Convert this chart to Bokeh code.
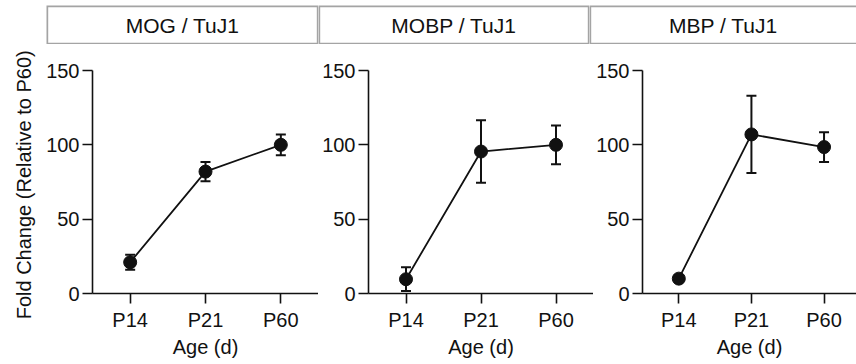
from bokeh.plotting import figure
from bokeh.layouts import column, row
from bokeh.models import (Range1d, FixedTicker, Whisker, TeeHead, ColumnDataSource)
from bokeh.core.properties import value
from bokeh.embed import file_html
from bokeh.resources import INLINE

# ---- data ----
categories = ["P14", "P21", "P60"]
panel_titles = ["MOG / TuJ1", "MOBP / TuJ1", "MBP / TuJ1"]
mog_mean = [21, 82, 100]
mog_err = [5, 6.5, 7]
mobp_mean = [9.6, 95.5, 100]
mobp_err = [8, 21, 13]
mbp_mean = [10, 107, 98.5]
mbp_err = [2, 26, 10]
y_ticks = [0, 50, 100, 150]
y_label = "Fold Change  (Relative to P60)"
x_label = "Age (d)"

FONT = "Liberation Sans"
FS = "20px"
BLACK = "#111111"
GREY = "#a4a4a4"

means = [mog_mean, mobp_mean, mbp_mean]
errs = [mog_err, mobp_err, mbp_err]

# ---- strip headers ----
strip_specs = [  # width, left border, x_end, quad right
    (318, 46, 1.0, 1.0),
    (271, 0, 1.0, 1.0),
    (267, 0, 267 / 268, 1.2),
]
strips = []
for (w, lb, xend, qr), title in zip(strip_specs, panel_titles):
    s = figure(width=w, height=44, x_range=Range1d(0, xend), y_range=Range1d(0, 1),
               toolbar_location=None, output_backend="svg",
               min_border_left=lb, min_border_right=0, min_border_top=5, min_border_bottom=0)
    s.axis.visible = False
    s.grid.visible = False
    s.outline_line_color = None
    s.quad(left=[0], right=[qr], bottom=[0], top=[1],
           fill_color=None, line_color=GREY, line_width=3.4)
    s.text(x=[0.5], y=[0.5], text=[title], text_align="center", text_baseline="middle",
           text_font=value(FONT), text_font_size="21px", text_color=BLACK)
    strips.append(s)

# ---- panels ----
panel_specs = [  # width, left border, top border, bottom border, x_end
    (318, 92, 24, 71, 2.5),
    (275, 50, 25, 69, 2.5),
    (263, 41, 26, 69, 2.447),
]
xs = list(range(len(categories)))
panels = []
for i, ((w, lb, tb, bb, xend), m, e) in enumerate(zip(panel_specs, means, errs)):
    p = figure(width=w, height=320, x_range=Range1d(-0.5, xend), y_range=Range1d(0, 150),
               toolbar_location=None, output_backend="svg",
               min_border_left=lb, min_border_right=0, min_border_top=tb, min_border_bottom=bb)
    p.grid.visible = False
    p.outline_line_color = None
    src = ColumnDataSource(dict(x=xs, y=m,
                                upper=[a + b for a, b in zip(m, e)],
                                lower=[a - b for a, b in zip(m, e)]))
    p.line("x", "y", source=src, line_color=BLACK, line_width=1.8)
    p.add_layout(Whisker(source=src, base="x", upper="upper", lower="lower",
                         line_color=BLACK, line_width=2,
                         upper_head=TeeHead(size=10, line_width=2, line_color=BLACK),
                         lower_head=TeeHead(size=10, line_width=2, line_color=BLACK)))
    p.scatter("x", "y", source=src, size=13, fill_color=BLACK, line_color=BLACK)

    for ax in (p.xaxis[0], p.yaxis[0]):
        ax.axis_line_width = 1.6
        ax.axis_line_color = BLACK
        ax.major_tick_line_width = 1.6
        ax.major_tick_line_color = BLACK
        ax.major_tick_out = 10
        ax.major_tick_in = 0
        ax.minor_tick_line_color = None
        ax.major_label_text_font = FONT
        ax.major_label_text_font_size = FS
        ax.major_label_text_color = BLACK
        ax.axis_label_text_font = FONT
        ax.axis_label_text_font_size = FS
        ax.axis_label_text_font_style = "normal"
        ax.axis_label_text_color = BLACK
    p.xaxis.ticker = FixedTicker(ticks=xs)
    p.xaxis.major_label_overrides = {x: c for x, c in zip(xs, categories)}
    p.xaxis.major_label_standoff = 5
    p.xaxis.axis_label = x_label
    p.xaxis.axis_label_standoff = 2
    p.yaxis.ticker = FixedTicker(ticks=y_ticks)
    p.yaxis.major_label_standoff = 3
    if i == 0:
        p.yaxis.axis_label = y_label
        p.yaxis.axis_label_standoff = 8
    panels.append(p)

layout = column(row(*strips, spacing=0), row(*panels, spacing=0), spacing=0)
open("out.html", "w").write(file_html(layout, INLINE))
